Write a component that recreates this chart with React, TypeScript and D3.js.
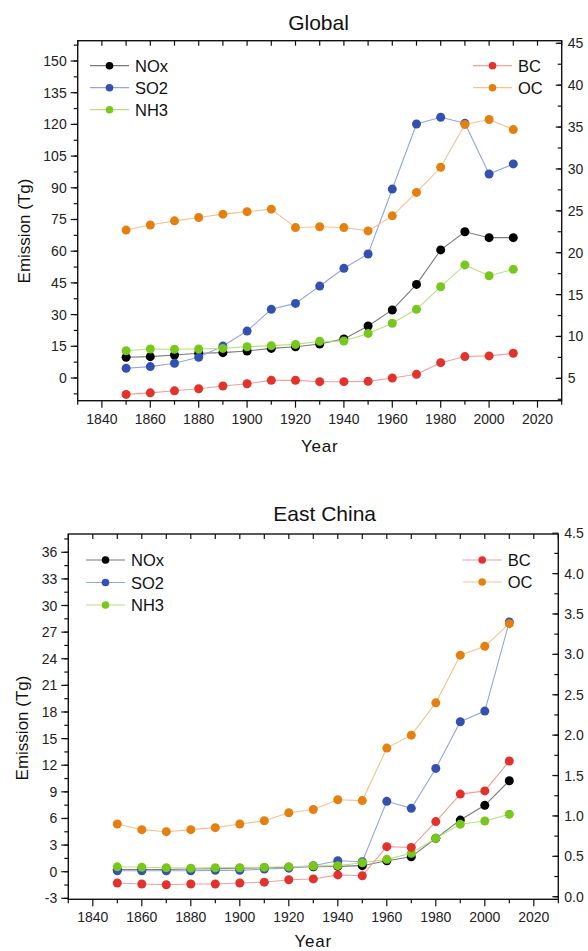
import React from "react";
import * as d3 from "d3";

// decades shared by both panels
const years = [1850, 1860, 1870, 1880, 1890, 1900, 1910, 1920, 1930, 1940, 1950, 1960, 1970, 1980, 1990, 2000, 2010];

// Global (Tg) - NOx/SO2/NH3 on left axis, BC/OC on right axis
const globalNOx = [9.8, 10.1, 10.9, 11.7, 12.0, 12.8, 14.0, 14.8, 16.1, 18.5, 24.6, 32.2, 44.3, 60.6, 69.2, 66.4, 66.4];
const globalSO2 = [4.6, 5.4, 7.0, 9.8, 15.1, 22.2, 32.5, 35.3, 43.5, 51.9, 58.7, 89.4, 120.2, 123.4, 120.5, 96.5, 101.3];
const globalNH3 = [12.9, 13.7, 13.6, 13.7, 14.0, 14.8, 15.3, 15.9, 17.4, 17.5, 21.1, 25.9, 32.5, 43.2, 53.5, 48.4, 51.4];
const globalBC = [3.08, 3.27, 3.51, 3.75, 4.08, 4.35, 4.76, 4.76, 4.6, 4.6, 4.64, 5.04, 5.48, 6.87, 7.6, 7.68, 8.0];
const globalOC = [22.7, 23.3, 23.8, 24.2, 24.6, 24.9, 25.2, 23.0, 23.1, 23.0, 22.6, 24.4, 27.2, 30.2, 35.3, 35.9, 34.7];

// East China (Tg)
const chinaNOx = [0.25, 0.25, 0.25, 0.3, 0.35, 0.4, 0.45, 0.5, 0.56, 0.6, 0.68, 1.24, 1.69, 3.76, 5.82, 7.48, 10.25];
const chinaSO2 = [0.1, 0.1, 0.1, 0.1, 0.15, 0.15, 0.3, 0.4, 0.68, 1.24, 1.13, 7.93, 7.14, 11.64, 16.9, 18.1, 28.15];
const chinaNH3 = [0.55, 0.5, 0.45, 0.4, 0.45, 0.45, 0.5, 0.55, 0.64, 0.68, 1.01, 1.39, 2.07, 3.76, 5.34, 5.71, 6.47];
const chinaBC = [0.17, 0.157, 0.148, 0.157, 0.157, 0.17, 0.18, 0.21, 0.22, 0.27, 0.26, 0.62, 0.61, 0.93, 1.27, 1.31, 1.68];
const chinaOC = [0.9, 0.83, 0.805, 0.83, 0.855, 0.9, 0.94, 1.04, 1.08, 1.2, 1.19, 1.84, 2.0, 2.4, 2.99, 3.1, 3.38];

const xTicks = [1840, 1860, 1880, 1900, 1920, 1940, 1960, 1980, 2000, 2020];

const FONT = "'Liberation Sans', Arial, sans-serif";

const styles: Record<string, { dot: string; line: string }> = {
  NOx: { dot: "#000000", line: "#7a7a7a" },
  SO2: { dot: "#3450b0", line: "#94a4e0" },
  NH3: { dot: "#78c81c", line: "#b8e07c" },
  BC: { dot: "#e3312b", line: "#f2a09a" },
  OC: { dot: "#e5800f", line: "#f5c28c" },
};

type PanelProps = {
  title: string;
  titleX: number;
  titleY: number;
  box: { left: number; right: number; top: number; bottom: number };
  yLeftDomain: [number, number];
  yRightDomain: [number, number];
  leftStep: number;
  rightStep: number;
  rightFmt: (v: number) => string;
  left: { name: string; values: number[] }[];
  right: { name: string; values: number[] }[];
  legendL: { x: number; y: number; gap: number };
  legendR: { x: number; y: number; gap: number };
  yLabelX: number;
  yLabelY: number;
  xLabelY: number;
};

function range(a: number, b: number, step: number) {
  const out: number[] = [];
  for (let v = a; v <= b + 1e-9; v += step) out.push(+v.toFixed(4));
  return out;
}

function Panel(p: PanelProps) {
  const { box } = p;
  const x = d3.scaleLinear().domain([1830, 2030]).range([box.left, box.right]);
  const yL = d3.scaleLinear().domain(p.yLeftDomain).range([box.bottom, box.top]);
  const yR = d3.scaleLinear().domain(p.yRightDomain).range([box.bottom, box.top]);

  const lMaj = range(Math.ceil(p.yLeftDomain[0] / p.leftStep) * p.leftStep, p.yLeftDomain[1], p.leftStep);
  const lMin = range(Math.ceil(p.yLeftDomain[0] / (p.leftStep / 2)) * (p.leftStep / 2), p.yLeftDomain[1], p.leftStep / 2);
  const rMaj = range(Math.ceil(p.yRightDomain[0] / p.rightStep - 1e-6) * p.rightStep, p.yRightDomain[1] + 0.02, p.rightStep);
  const rMin = range(Math.ceil(p.yRightDomain[0] / (p.rightStep / 2) - 1e-6) * (p.rightStep / 2), p.yRightDomain[1], p.rightStep / 2);
  const decades = range(1830, 2030, 10);

  const series = [
    ...p.left.map((s) => ({ ...s, y: yL })),
    ...p.right.map((s) => ({ ...s, y: yR })),
  ];

  const legend = (items: { name: string }[], L: { x: number; y: number; gap: number }) =>
    items.map((s, i) => {
      const cy = L.y + i * L.gap;
      return (
        <g key={s.name}>
          <line x1={L.x} x2={L.x + 39} y1={cy} y2={cy} stroke={styles[s.name].line} strokeWidth={1.2} />
          <circle cx={L.x + 19.5} cy={cy} r={3.8} fill={styles[s.name].dot} />
          <text x={L.x + 45} y={cy + 6} fontSize={16.5} fontFamily={FONT} fill="#111">
            {s.name}
          </text>
        </g>
      );
    });

  return (
    <g>
      <text x={p.titleX} y={p.titleY} textAnchor="middle" fontSize={21} fontFamily={FONT} fill="#111">
        {p.title}
      </text>

      {series.map((s) => {
        const line = d3
          .line<number>()
          .x((_, i) => x(years[i]))
          .y((v) => s.y(v));
        return (
          <g key={s.name}>
            <path d={line(s.values) || ""} fill="none" stroke={styles[s.name].line} strokeWidth={1.1} />
            {s.values.map((v, i) => (
              <circle key={i} cx={x(years[i])} cy={s.y(v)} r={4.5} fill={styles[s.name].dot} />
            ))}
          </g>
        );
      })}

      <rect
        x={box.left}
        y={box.top}
        width={box.right - box.left}
        height={box.bottom - box.top}
        fill="none"
        stroke="#111"
        strokeWidth={1.4}
      />

      {/* top ticks inward, bottom ticks outward */}
      {decades.map((d) => (
        <g key={d}>
          <line x1={x(d)} x2={x(d)} y1={box.top} y2={box.top + 5} stroke="#111" strokeWidth={1.2} />
          <line
            x1={x(d)}
            x2={x(d)}
            y1={box.bottom}
            y2={box.bottom + (d % 20 === 0 ? 7 : 4)}
            stroke="#111"
            strokeWidth={1.2}
          />
        </g>
      ))}
      {xTicks.map((d) => (
        <text key={d} x={x(d)} y={box.bottom + 23} textAnchor="middle" fontSize={14} fontFamily={FONT} fill="#222">
          {d}
        </text>
      ))}

      {/* left axis */}
      {lMin.map((v) => (
        <line key={v} x1={box.left - 4} x2={box.left} y1={yL(v)} y2={yL(v)} stroke="#111" strokeWidth={1.2} />
      ))}
      {lMaj.map((v) => (
        <g key={v}>
          <line x1={box.left - 7} x2={box.left} y1={yL(v)} y2={yL(v)} stroke="#111" strokeWidth={1.2} />
          <text x={box.left - 11} y={yL(v) + 5} textAnchor="end" fontSize={14} fontFamily={FONT} fill="#222">
            {v}
          </text>
        </g>
      ))}

      {/* right axis, ticks inward */}
      {rMin.map((v) => (
        <line key={v} x1={box.right - 4} x2={box.right} y1={yR(v)} y2={yR(v)} stroke="#111" strokeWidth={1.2} />
      ))}
      {rMaj.map((v) => (
        <g key={v}>
          <line x1={box.right - 6} x2={box.right} y1={yR(v)} y2={yR(v)} stroke="#111" strokeWidth={1.2} />
          <text x={box.right + 6} y={yR(v) + 5} fontSize={14} fontFamily={FONT} fill="#222">
            {p.rightFmt(v)}
          </text>
        </g>
      ))}

      {legend(p.left, p.legendL)}
      {legend(p.right, p.legendR)}

      <text
        transform={`translate(${p.yLabelX},${p.yLabelY}) rotate(-90)`}
        textAnchor="middle"
        fontSize={17}
        fontFamily={FONT}
        fill="#111"
      >
        Emission (Tg)
      </text>
      <text
        x={(box.left + box.right) / 2}
        y={p.xLabelY}
        textAnchor="middle"
        fontSize={17}
        fontFamily={FONT}
        fill="#111"
        letterSpacing={0.8}
      >
        Year
      </text>
    </g>
  );
}

export default function App() {
  return (
    <svg
      width={588}
      height={951}
      style={{ position: "absolute", left: 0, top: 0, background: "#fff", display: "block" }}
    >
      <Panel
        title="Global"
        titleX={318.5}
        titleY={30}
        box={{ left: 77.7, right: 561.7, top: 40.7, bottom: 400.7 }}
        yLeftDomain={[-10.74, 159.6]}
        yRightDomain={[2.33, 45.31]}
        leftStep={15}
        rightStep={5}
        rightFmt={(v) => String(v)}
        left={[
          { name: "NOx", values: globalNOx },
          { name: "SO2", values: globalSO2 },
          { name: "NH3", values: globalNH3 },
        ]}
        right={[
          { name: "BC", values: globalBC },
          { name: "OC", values: globalOC },
        ]}
        legendL={{ x: 90, y: 65.7, gap: 22 }}
        legendR={{ x: 473, y: 65.7, gap: 22 }}
        yLabelX={30}
        yLabelY={231}
        xLabelY={451.7}
      />
      <Panel
        title="East China"
        titleX={324.7}
        titleY={520.7}
        box={{ left: 68.3, right: 558.3, top: 534, bottom: 899.3 }}
        yLeftDomain={[-3.11, 38.06]}
        yRightDomain={[-0.032, 4.49]}
        leftStep={3}
        rightStep={0.5}
        rightFmt={(v) => v.toFixed(1)}
        left={[
          { name: "NOx", values: chinaNOx },
          { name: "SO2", values: chinaSO2 },
          { name: "NH3", values: chinaNH3 },
        ]}
        right={[
          { name: "BC", values: chinaBC },
          { name: "OC", values: chinaOC },
        ]}
        legendL={{ x: 86, y: 560, gap: 22.5 }}
        legendR={{ x: 462.7, y: 560, gap: 22 }}
        yLabelX={28}
        yLabelY={728}
        xLabelY={946.7}
      />
    </svg>
  );
}
